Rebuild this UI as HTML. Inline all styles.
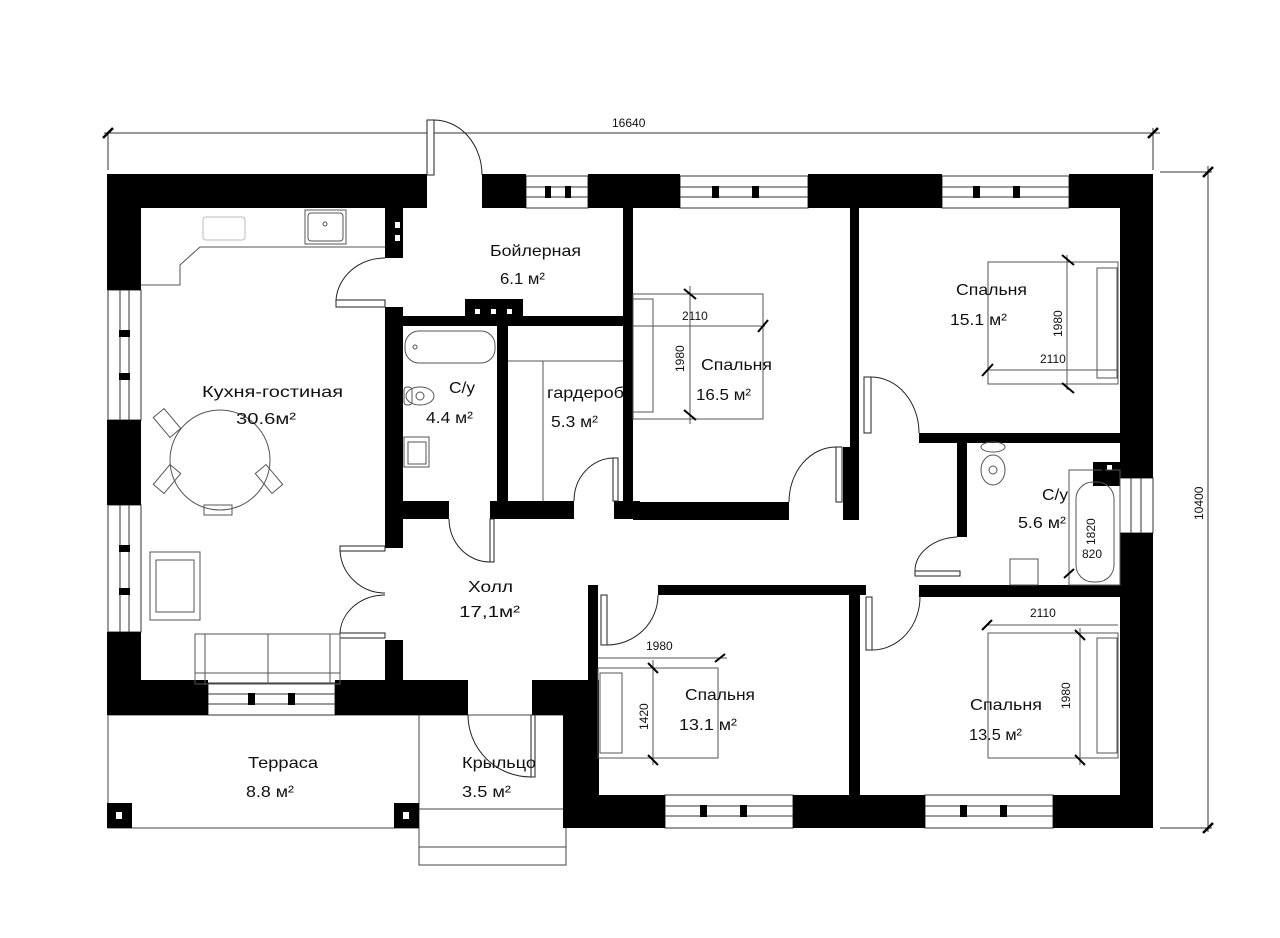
<!DOCTYPE html>
<html><head><meta charset="utf-8"><style>
html,body{margin:0;padding:0;background:#fff;}
svg{display:block;}
text{font-family:"Liberation Sans","DejaVu Sans",sans-serif;fill:#111;}
.l{font-size:16px;}
.d{font-size:12px;}
</style></head><body>
<svg width="1280" height="938" viewBox="0 0 1280 938" xmlns="http://www.w3.org/2000/svg">
<rect width="1280" height="938" fill="#fff"/>
<g stroke="#333" stroke-width="1" fill="none">
<line x1="104" y1="133" x2="1160" y2="133"/>
<line x1="108" y1="133" x2="108" y2="170"/>
<line x1="1153" y1="128" x2="1153" y2="170"/>
<line x1="1160" y1="172" x2="1212" y2="172"/>
<line x1="1208" y1="166" x2="1208" y2="832"/>
<line x1="1160" y1="828" x2="1212" y2="828"/>
</g>
<g stroke="#000" stroke-width="2.5">
<line x1="103" y1="138" x2="113" y2="128"/>
<line x1="1148" y1="138" x2="1158" y2="128"/>
<line x1="1203" y1="177" x2="1213" y2="167"/>
<line x1="1203" y1="833" x2="1213" y2="823"/>
</g>
<text class="d" x="612" y="127">16640</text>
<text class="d" transform="translate(1203,520) rotate(-90)">10400</text>

<g stroke="#444" stroke-width="1" fill="none">
<rect x="108" y="715" width="311" height="113"/>
<rect x="419" y="715" width="147" height="94"/>
<rect x="419" y="809" width="147" height="38"/>
<rect x="419" y="847" width="147" height="18"/>
</g>
<rect x="107" y="803" width="25" height="25" fill="#000"/>
<rect x="116" y="812" width="6" height="7" fill="#fff"/>
<rect x="394" y="803" width="25" height="25" fill="#000"/>
<rect x="403" y="812" width="6" height="7" fill="#fff"/>

<g fill="#fff" stroke="#333" stroke-width="1">
<rect x="526" y="176" width="62" height="32"/>
<rect x="680" y="176" width="128" height="32"/>
<rect x="942" y="176" width="127" height="32"/>
<rect x="108" y="290" width="33" height="130"/>
<rect x="108" y="505" width="33" height="127"/>
<rect x="1120" y="478" width="33" height="55"/>
<rect x="208" y="683" width="127" height="32"/>
<rect x="665" y="795" width="128" height="33"/>
<rect x="925" y="795" width="128" height="33"/>
</g>
<g stroke="#333" stroke-width="1">
<line x1="526" y1="187" x2="588" y2="187"/><line x1="526" y1="197" x2="588" y2="197"/>
<line x1="680" y1="187" x2="808" y2="187"/><line x1="680" y1="197" x2="808" y2="197"/>
<line x1="942" y1="187" x2="1069" y2="187"/><line x1="942" y1="197" x2="1069" y2="197"/>
<line x1="120" y1="290" x2="120" y2="420"/><line x1="129" y1="290" x2="129" y2="420"/>
<line x1="120" y1="505" x2="120" y2="632"/><line x1="129" y1="505" x2="129" y2="632"/>
<line x1="1131" y1="478" x2="1131" y2="533"/><line x1="1141" y1="478" x2="1141" y2="533"/>
<line x1="208" y1="694" x2="335" y2="694"/><line x1="208" y1="704" x2="335" y2="704"/>
<line x1="665" y1="806" x2="793" y2="806"/><line x1="665" y1="816" x2="793" y2="816"/>
<line x1="925" y1="806" x2="1053" y2="806"/><line x1="925" y1="816" x2="1053" y2="816"/>
</g>
<g fill="#000">
<rect x="545" y="186" width="6" height="12"/><rect x="565" y="186" width="6" height="12"/>
<rect x="712" y="186" width="7" height="12"/><rect x="752" y="186" width="7" height="12"/>
<rect x="973" y="186" width="7" height="12"/><rect x="1013" y="186" width="7" height="12"/>
<rect x="119" y="330" width="11" height="7"/><rect x="119" y="373" width="11" height="7"/>
<rect x="119" y="545" width="11" height="7"/><rect x="119" y="588" width="11" height="7"/>
<rect x="248" y="693" width="7" height="12"/><rect x="288" y="693" width="7" height="12"/>
<rect x="700" y="805" width="7" height="12"/><rect x="740" y="805" width="7" height="12"/>
<rect x="960" y="805" width="7" height="12"/><rect x="1000" y="805" width="7" height="12"/>
</g>

<g fill="#000">
<rect x="107" y="174" width="320" height="34"/>
<rect x="482" y="174" width="44" height="34"/>
<rect x="588" y="174" width="92" height="34"/>
<rect x="808" y="174" width="134" height="34"/>
<rect x="1069" y="174" width="84" height="34"/>
<rect x="107" y="174" width="34" height="116"/>
<rect x="107" y="420" width="34" height="85"/>
<rect x="107" y="632" width="34" height="83"/>
<rect x="1120" y="174" width="33" height="304"/>
<rect x="1120" y="533" width="33" height="295"/>
<rect x="107" y="680" width="101" height="35"/>
<rect x="335" y="680" width="133" height="35"/>
<rect x="532" y="680" width="66" height="35"/>
<rect x="563" y="680" width="36" height="148"/>
<rect x="563" y="795" width="102" height="33"/>
<rect x="793" y="795" width="132" height="33"/>
<rect x="1053" y="795" width="100" height="33"/>
<rect x="385" y="208" width="18" height="50"/>
<rect x="385" y="307" width="18" height="241"/>
<rect x="385" y="640" width="18" height="42"/>
<rect x="403" y="316" width="220" height="10"/>
<rect x="465" y="299" width="58" height="17"/>
<rect x="497" y="326" width="11" height="176"/>
<rect x="403" y="501" width="46" height="18"/>
<rect x="490" y="501" width="84" height="18"/>
<rect x="614" y="501" width="26" height="18"/>
<rect x="623" y="208" width="10" height="311"/>
<rect x="633" y="502" width="156" height="18"/>
<rect x="850" y="208" width="9" height="312"/>
<rect x="843" y="447" width="16" height="73"/>
<rect x="919" y="433" width="201" height="10"/>
<rect x="957" y="443" width="10" height="94"/>
<rect x="919" y="585" width="201" height="12"/>
<rect x="849" y="585" width="11" height="212"/>
<rect x="658" y="585" width="208" height="10"/>
<rect x="588" y="585" width="10" height="100"/>
<rect x="1093" y="462" width="27" height="24"/>
</g>
<g fill="#fff">
<rect x="395" y="222" width="5" height="6"/><rect x="395" y="235" width="5" height="6"/>
<rect x="475" y="309" width="5" height="5"/><rect x="491" y="309" width="5" height="5"/><rect x="507" y="309" width="5" height="5"/>
<rect x="1107" y="465" width="5" height="5"/>
</g>

<g fill="none" stroke="#222" stroke-width="1">
<rect x="427" y="120" width="7" height="55" fill="#fff"/>
<path d="M434 120 A48 55 0 0 1 482 175"/>
<rect x="336" y="300" width="49" height="7" fill="#fff"/>
<path d="M336 300 A49 45 0 0 1 385 258"/>
<rect x="490" y="519" width="4" height="43" fill="#fff"/>
<path d="M490 562 A41 43 0 0 1 449 519"/>
<rect x="613" y="458" width="5" height="43" fill="#fff"/>
<path d="M613 458 A40 43 0 0 0 574 501"/>
<rect x="836" y="447" width="6" height="55" fill="#fff"/>
<path d="M836 447 A47 55 0 0 0 789 502"/>
<rect x="864" y="377" width="7" height="56" fill="#fff"/>
<path d="M871 377 A48 56 0 0 1 919 433"/>
<rect x="915" y="571" width="45" height="5" fill="#fff"/>
<path d="M915 571 A45 34 0 0 1 957 537"/>
<rect x="340" y="546" width="45" height="5" fill="#fff"/>
<path d="M340 551 A45 45 0 0 0 385 593"/>
<rect x="340" y="633" width="45" height="5" fill="#fff"/>
<path d="M340 633 A45 40 0 0 1 385 595"/>
<rect x="531" y="715" width="4" height="62"/>
<path d="M531 777 A63 62 0 0 1 468 715"/>
<rect x="601" y="595" width="6" height="50" fill="#fff"/>
<path d="M607 645 A51 50 0 0 0 658 595"/>
<rect x="866" y="597" width="6" height="53" fill="#fff"/>
<path d="M872 650 A48 53 0 0 0 920 597"/>
</g>

<g fill="none" stroke="#555" stroke-width="1">
<polyline points="141,285 180,285 180,265 200,247 385,247"/>
<rect x="305" y="210" width="41" height="34"/>
<rect x="308" y="213" width="35" height="28" rx="3"/>
<circle cx="325" cy="224" r="2"/>
<rect x="203" y="217" width="42" height="23" rx="3" stroke="#bbb"/>
<circle cx="220" cy="460" r="50"/>
<rect x="160" y="410" width="14" height="26" transform="rotate(-40 167 423)"/>
<rect x="262" y="466" width="14" height="26" transform="rotate(-40 269 479)"/>
<rect x="160" y="466" width="14" height="26" transform="rotate(40 167 479)"/>
<rect x="204" y="505" width="28" height="10"/>
<rect x="150" y="552" width="50" height="68"/>
<rect x="156" y="560" width="38" height="52"/>
<rect x="195" y="634" width="145" height="50"/>
<line x1="205" y1="634" x2="205" y2="684"/><line x1="268" y1="634" x2="268" y2="684"/><line x1="330" y1="634" x2="330" y2="684"/>
<line x1="195" y1="673" x2="340" y2="673"/>
<rect x="405" y="331" width="90" height="32" rx="14"/>
<circle cx="415" cy="347" r="2"/>
<ellipse cx="420" cy="396" rx="14" ry="9"/>
<circle cx="420" cy="396" r="4"/>
<rect x="404" y="387" width="8" height="18" rx="3"/>
<rect x="404" y="437" width="25" height="30"/>
<rect x="408" y="442" width="18" height="22"/>
<line x1="508" y1="361" x2="623" y2="361"/>
<line x1="543" y1="361" x2="543" y2="501"/>
<rect x="633" y="294" width="130" height="125"/>
<rect x="633" y="299" width="20" height="113"/>
<line x1="633" y1="326" x2="765" y2="326"/>
<line x1="690" y1="286" x2="690" y2="424"/>
<rect x="988" y="262" width="130" height="122"/>
<rect x="1097" y="268" width="20" height="110"/>
<line x1="988" y1="370" x2="1118" y2="370"/>
<line x1="1067" y1="255" x2="1067" y2="390"/>
<ellipse cx="993" cy="470" rx="12" ry="15"/>
<ellipse cx="993" cy="447" rx="12" ry="5"/>
<circle cx="993" cy="470" r="4"/>
<rect x="1069" y="470" width="51" height="115"/>
<rect x="1076" y="482" width="38" height="100" rx="17"/>
<rect x="1010" y="559" width="28" height="26"/>
<rect x="598" y="668" width="120" height="90"/>
<rect x="600" y="673" width="22" height="80"/>
<line x1="598" y1="658" x2="727" y2="658"/>
<line x1="653" y1="660" x2="653" y2="765"/>
<rect x="988" y="633" width="130" height="125"/>
<rect x="1097" y="638" width="20" height="115"/>
<line x1="988" y1="625" x2="1118" y2="625"/>
<line x1="1080" y1="628" x2="1080" y2="765"/>
</g>
<g stroke="#000" stroke-width="2">
<line x1="684" y1="289" x2="696" y2="299"/><line x1="684" y1="410" x2="696" y2="420"/>
<line x1="758" y1="332" x2="768" y2="320"/>
<line x1="1062" y1="255" x2="1074" y2="265"/><line x1="1062" y1="383" x2="1074" y2="393"/>
<line x1="982" y1="376" x2="993" y2="364"/>
<line x1="1098" y1="465" x2="1108" y2="474"/><line x1="1064" y1="578" x2="1074" y2="569"/>
<line x1="648" y1="663" x2="658" y2="673"/><line x1="648" y1="755" x2="658" y2="765"/>
<line x1="715" y1="662" x2="725" y2="654"/>
<line x1="1075" y1="630" x2="1085" y2="640"/><line x1="1075" y1="755" x2="1085" y2="765"/>
<line x1="982" y1="630" x2="992" y2="620"/>
</g>
<g class="d">
<text x="682" y="320">2110</text>
<text transform="translate(684,372) rotate(-90)">1980</text>
<text x="1040" y="363">2110</text>
<text transform="translate(1062,337) rotate(-90)">1980</text>
<text transform="translate(1095,545) rotate(-90)">1820</text>
<text x="1082" y="558">820</text>
<text x="646" y="650">1980</text>
<text transform="translate(648,730) rotate(-90)">1420</text>
<text x="1030" y="617">2110</text>
<text transform="translate(1070,709) rotate(-90)">1980</text>
</g>

<g class="l">
<text x="490" y="256" textLength="91" lengthAdjust="spacingAndGlyphs">Бойлерная</text>
<text x="500" y="284" textLength="45" lengthAdjust="spacingAndGlyphs">6.1 м²</text>
<text x="202" y="397" textLength="141" lengthAdjust="spacingAndGlyphs">Кухня-гостиная</text>
<text x="236" y="424" textLength="60" lengthAdjust="spacingAndGlyphs">30.6м²</text>
<text x="449" y="393" textLength="26" lengthAdjust="spacingAndGlyphs">С/у</text>
<text x="426" y="423" textLength="47" lengthAdjust="spacingAndGlyphs">4.4 м²</text>
<text x="547" y="398" textLength="77" lengthAdjust="spacingAndGlyphs">гардероб</text>
<text x="551" y="427" textLength="47" lengthAdjust="spacingAndGlyphs">5.3 м²</text>
<text x="701" y="370" textLength="71" lengthAdjust="spacingAndGlyphs">Спальня</text>
<text x="696" y="400" textLength="55" lengthAdjust="spacingAndGlyphs">16.5 м²</text>
<text x="956" y="295" textLength="71" lengthAdjust="spacingAndGlyphs">Спальня</text>
<text x="950" y="325" textLength="57" lengthAdjust="spacingAndGlyphs">15.1 м²</text>
<text x="1042" y="500" textLength="26" lengthAdjust="spacingAndGlyphs">С/у</text>
<text x="1018" y="528" textLength="48" lengthAdjust="spacingAndGlyphs">5.6 м²</text>
<text x="468" y="592" textLength="45" lengthAdjust="spacingAndGlyphs">Холл</text>
<text x="459" y="617" textLength="61" lengthAdjust="spacingAndGlyphs">17,1м²</text>
<text x="685" y="700" textLength="70" lengthAdjust="spacingAndGlyphs">Спальня</text>
<text x="679" y="730" textLength="58" lengthAdjust="spacingAndGlyphs">13.1 м²</text>
<text x="970" y="710" textLength="72" lengthAdjust="spacingAndGlyphs">Спальня</text>
<text x="969" y="740" textLength="53" lengthAdjust="spacingAndGlyphs">13.5 м²</text>
<text x="248" y="768" textLength="70" lengthAdjust="spacingAndGlyphs">Терраса</text>
<text x="246" y="797" textLength="48" lengthAdjust="spacingAndGlyphs">8.8 м²</text>
<text x="462" y="768" textLength="74" lengthAdjust="spacingAndGlyphs">Крыльцо</text>
<text x="462" y="797" textLength="49" lengthAdjust="spacingAndGlyphs">3.5 м²</text>
</g>
</svg>
</body></html>
